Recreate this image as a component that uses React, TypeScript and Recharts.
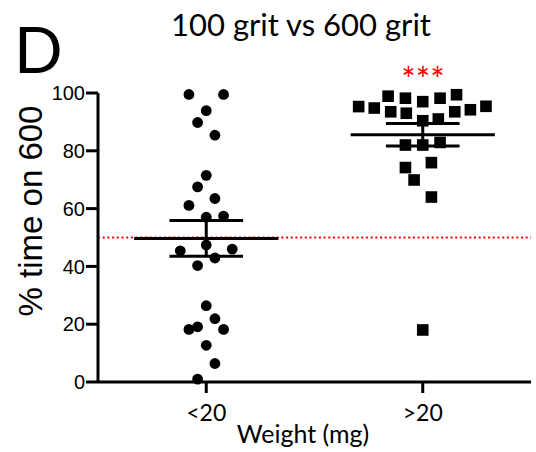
import { Label, ReferenceLine, Scatter, ScatterChart, XAxis, YAxis } from 'recharts';

const CATEGORIES = ['<20', '>20'];
const Y_TICKS = [0, 20, 40, 60, 80, 100];
const CHANCE_LEVEL = 50;

// % time on 600 grit, one value per animal
const LT20_VALUES = [
	99.5, 99.5, 93.9, 89.8, 85.4, 71.5, 67.5, 63.5, 61.1, 57.0, 57.4, 47.4, 45.4, 46.0, 42.9, 40.3,
	26.4, 21.9, 18.2, 19.1, 18.2, 12.7, 6.4, 1.0,
];
// horizontal scatter slot of each point (GraphPad-style jitter)
const LT20_SLOTS = [-2, 2, 0, -1, 1, 0, -1, 1, -2, 0, 2, 0, -3, 3, 1, -1, 0, 1, -2, -1, 2, 0, 1, -1];

const GT20_VALUES = [
	95.3, 94.8, 98.9, 98.2, 97.0, 98.2, 99.4, 94.2, 95.4, 93.5, 93.0, 93.5, 90.4, 91.0, 82.0, 82.0,
	82.9, 75.9, 74.2, 69.9, 64.0, 18.0,
];
const GT20_SLOTS = [
	-7.4, -5.6, -4, -2, 0, 2, 3.9, 5.5, 7.3, -3.7, -1.9, 3.7, 0, 1.8, -2, 0, 2, 1, -2, -1, 1, 0,
];

const JITTER_STEP = 0.04;
const MEAN_HALF = 0.333;
const SEM_HALF = 0.17;

const WIDTH = 536;
const HEIGHT = 452;
const SANS = '"Liberation Sans", Arial, sans-serif';
const HUMANIST = 'Lato, "Open Sans", sans-serif';

function toPoints(values: number[], slots: number[], center: number) {
	return values.map((y, i) => ({ x: center + slots[i] * JITTER_STEP, y }));
}

function meanSem(values: number[]) {
	const n = values.length;
	const mean = values.reduce((a, b) => a + b, 0) / n;
	const variance = values.reduce((a, b) => a + (b - mean) ** 2, 0) / (n - 1);
	return { mean, sem: Math.sqrt(variance) / Math.sqrt(n) };
}

const groups = [
	{ center: 1, values: LT20_VALUES, points: toPoints(LT20_VALUES, LT20_SLOTS, 1) },
	{ center: 2, values: GT20_VALUES, points: toPoints(GT20_VALUES, GT20_SLOTS, 2) },
];

const CircleMark = (props: any) => <circle cx={props.cx} cy={props.cy} r={5.4} fill="#000" />;
const SquareMark = (props: any) => (
	<rect x={props.cx - 5.8} y={props.cy - 5.8} width={11.6} height={11.6} fill="#000" />
);

export default function App() {
	return (
		<div style={{ position: 'absolute', left: 0, top: 0, width: WIDTH, height: HEIGHT, background: '#fff' }}>
			<ScatterChart width={WIDTH} height={HEIGHT} margin={{ top: 93, right: 5, bottom: 0, left: 0 }}>
				<XAxis
					type="number"
					dataKey="x"
					domain={[0.5, 2.5]}
					ticks={[1, 2]}
					tickFormatter={(v) => CATEGORIES[Number(v) - 1]}
					height={70}
					stroke="#000"
					axisLine={{ stroke: '#000', strokeWidth: 3 }}
					tickLine={{ stroke: '#000', strokeWidth: 3 }}
					tickSize={11}
					tickMargin={12}
					tick={{ fill: '#000', fontSize: 23, fontFamily: HUMANIST }}
				>
					<Label
						content={() => (
							<text x={303} y={443} textAnchor="middle" fontSize={25} fontFamily={HUMANIST} fill="#000">
								Weight (mg)
							</text>
						)}
					/>
				</XAxis>
				<YAxis
					type="number"
					dataKey="y"
					domain={[0, 100]}
					ticks={Y_TICKS}
					width={98}
					stroke="#000"
					axisLine={{ stroke: '#000', strokeWidth: 3 }}
					tickLine={{ stroke: '#000', strokeWidth: 3 }}
					tickSize={12}
					tickMargin={1}
					tick={{ fill: '#000', fontSize: 20, fontFamily: SANS }}
				>
					<Label
						content={() => (
							<text
								x={42}
								y={211}
								transform="rotate(-90 42 211)"
								textAnchor="middle"
								fontSize={33}
								fontFamily={SANS}
								fill="#000"
							>
								% time on 600
							</text>
						)}
					/>
				</YAxis>
				<ReferenceLine y={CHANCE_LEVEL} stroke="#f00" strokeWidth={2} strokeDasharray="2 2.7" />
				{groups.map((g) => {
					const { mean, sem } = meanSem(g.values);
					return [
						<ReferenceLine
							key={`m${g.center}`}
							segment={[{ x: g.center - MEAN_HALF, y: mean }, { x: g.center + MEAN_HALF, y: mean }]}
							stroke="#000"
							strokeWidth={3}
						/>,
						<ReferenceLine
							key={`u${g.center}`}
							segment={[{ x: g.center - SEM_HALF, y: mean + sem }, { x: g.center + SEM_HALF, y: mean + sem }]}
							stroke="#000"
							strokeWidth={3}
						/>,
						<ReferenceLine
							key={`l${g.center}`}
							segment={[{ x: g.center - SEM_HALF, y: mean - sem }, { x: g.center + SEM_HALF, y: mean - sem }]}
							stroke="#000"
							strokeWidth={3}
						/>,
						<ReferenceLine
							key={`s${g.center}`}
							segment={[{ x: g.center, y: mean - sem }, { x: g.center, y: mean + sem }]}
							stroke="#000"
							strokeWidth={3}
						/>,
					];
				})}
				<Scatter data={groups[0].points} shape={CircleMark} isAnimationActive={false} />
				<Scatter data={groups[1].points} shape={SquareMark} isAnimationActive={false} />
			</ScatterChart>
			<svg
				width={WIDTH}
				height={HEIGHT}
				style={{ position: 'absolute', left: 0, top: 0, pointerEvents: 'none' }}
			>
				<text x={301} y={36} textAnchor="middle" fontSize={31} fontFamily={HUMANIST} fill="#000">
					100 grit vs 600 grit
				</text>
				<text x={14} y={73} fontSize={64} fontFamily={HUMANIST} fill="#000">
					D
				</text>
				<text x={423} y={92} textAnchor="middle" fontSize={34} fontFamily={HUMANIST} fill="#f00">
					***
				</text>
			</svg>
		</div>
	);
}
